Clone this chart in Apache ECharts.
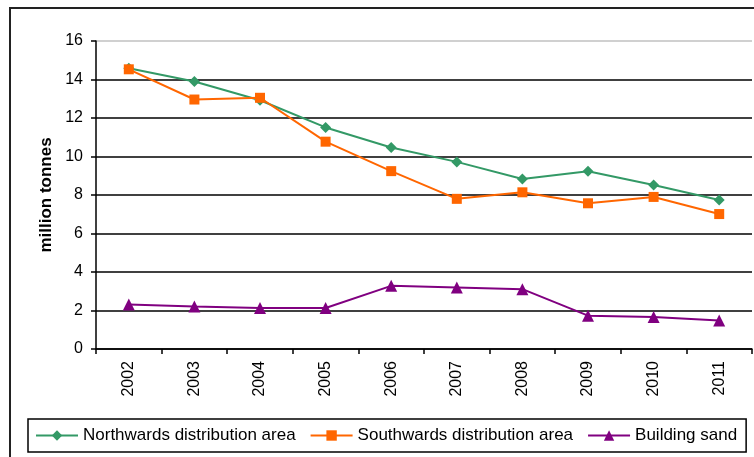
<!DOCTYPE html>
<html>
<head>
<meta charset="utf-8">
<script src="https://cdn.jsdelivr.net/npm/echarts@6/dist/echarts.min.js"></script>
<style>
  html, body { margin: 0; padding: 0; background: #fff; }
  #chart { width: 754px; height: 457px; }
</style>
</head>
<body>
<div id="chart"></div>
<script>
const years = ['2002', '2003', '2004', '2005', '2006', '2007', '2008', '2009', '2010', '2011']
const northwards = [14.58, 13.9, 12.92, 11.51, 10.47, 9.72, 8.83, 9.23, 8.52, 7.74]
const southwards = [14.53, 12.96, 13.05, 10.77, 9.24, 7.8, 8.14, 7.57, 7.9, 7.01]
const buildingSand = [2.31, 2.21, 2.13, 2.13, 3.28, 3.2, 3.11, 1.73, 1.66, 1.48]

const font = 'Liberation Sans, Arial, sans-serif'

const chart = echarts.init(document.getElementById('chart'), null, { renderer: 'canvas' })

function lineSeries(name, data, color, symbol, symbolSize) {
  return {
    name,
    type: 'line',
    data,
    symbol,
    symbolSize,
    lineStyle: { color, width: 2 },
    itemStyle: { color },
    animation: false,
  }
}

chart.setOption({
  backgroundColor: '#fff',
  animation: false,
  textStyle: { fontFamily: font },
  graphic: [
    {
      type: 'rect',
      shape: { x: 10, y: 8, width: 800, height: 500 },
      style: { fill: 'none', stroke: '#222', lineWidth: 2 },
      silent: true,
    },
  ],
  grid: { left: 96, top: 41, right: 2, bottom: 108 },
  xAxis: {
    type: 'category',
    data: years,
    boundaryGap: true,
    axisLine: { lineStyle: { color: '#000', width: 1.5 } },
    axisTick: { show: true, length: 5, lineStyle: { color: '#000', width: 1.5 } },
    axisLabel: { rotate: 90, margin: 12, color: '#000', fontSize: 16, fontFamily: font },
    splitLine: { show: false },
  },
  yAxis: {
    type: 'value',
    min: 0,
    max: 16,
    interval: 2,
    name: 'million tonnes',
    nameLocation: 'middle',
    nameGap: 41,
    nameMoveOverlap: false,
    nameTextStyle: { color: '#000', fontSize: 17, fontWeight: 'bold', fontFamily: font },
    axisLine: { show: true, lineStyle: { color: '#000', width: 1.5 } },
    axisTick: { show: true, length: 5, lineStyle: { color: '#000', width: 1.5 } },
    axisLabel: { margin: 13, color: '#000', fontSize: 16, fontFamily: font },
    splitLine: {
      show: true,
      lineStyle: {
        color: ['#000', '#000', '#000', '#000', '#000', '#000', '#000', '#000', '#c0c0c0'],
        width: 1.5,
      },
    },
  },
  legend: {
    left: 28,
    top: 419,
    orient: 'horizontal',
    padding: [8, 9, 8, 7],
    itemGap: 14,
    itemWidth: 42,
    itemHeight: 13,
    borderColor: '#000',
    borderWidth: 1.5,
    textStyle: { color: '#000', fontSize: 17, fontFamily: font },
    data: ['Northwards distribution area', 'Southwards distribution area', 'Building sand'],
  },
  series: [
    lineSeries('Northwards distribution area', northwards, '#339966', 'diamond', 11),
    lineSeries('Southwards distribution area', southwards, '#ff6600', 'rect', 10),
    lineSeries('Building sand', buildingSand, '#800080', 'triangle', 12),
  ],
})
</script>
</body>
</html>
